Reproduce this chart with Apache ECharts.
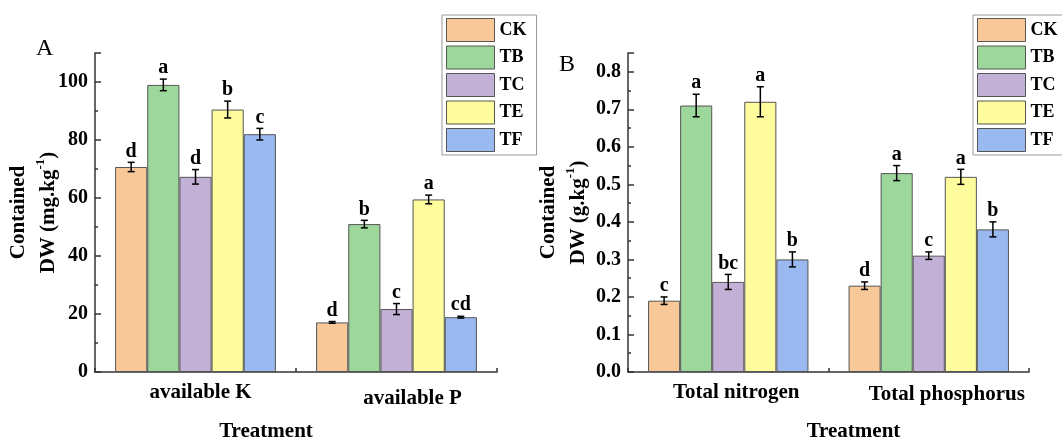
<!DOCTYPE html>
<html><head><meta charset="utf-8">
<script src="https://cdn.jsdelivr.net/npm/echarts@6/dist/echarts.min.js"></script>
<style>html,body{margin:0;padding:0;background:#fff}#c{width:1062px;height:437px}</style>
</head><body><div id="c"></div>
<script>
// ---- data ----
const treatments = ['CK', 'TB', 'TC', 'TE', 'TF'];
const catsA = ['available K', 'available P'];
const catsB = ['Total nitrogen', 'Total phosphorus'];
const tickA = [0, 20, 40, 60, 80, 100];
const tickB = [0.0, 0.1, 0.2, 0.3, 0.4, 0.5, 0.6, 0.7, 0.8];

// Panel A (mg/kg), order CK, TB, TC, TE, TF
const A_K = [70.7, 99.0, 67.3, 90.5, 82.0];
const A_K_err = [1.6, 2.0, 2.5, 2.9, 2.0];
const A_K_sig = ['d', 'a', 'd', 'b', 'c'];
const A_P = [17.1, 51.0, 21.7, 59.5, 18.9];
const A_P_err = [0.3, 1.3, 1.9, 1.5, 0.3];
const A_P_sig = ['d', 'b', 'c', 'a', 'cd'];

// Panel B (g/kg)
const B_N = [0.19, 0.71, 0.24, 0.72, 0.30];
const B_N_err = [0.01, 0.03, 0.02, 0.04, 0.02];
const B_N_sig = ['c', 'a', 'bc', 'a', 'b'];
const B_P = [0.23, 0.53, 0.31, 0.52, 0.38];
const B_P_err = [0.01, 0.02, 0.01, 0.02, 0.02];
const B_P_sig = ['d', 'a', 'c', 'a', 'b'];

// ---- styles ----
const COLORS = ['#F9C898', '#9DD79B', '#C2B0D6', '#FEFC9D', '#9AB9F1'];
const FONT = '"Liberation Serif", "Times New Roman", serif';
const AX = '#333';
const GAP = 0.2; // barCategoryGap fraction

const chart = echarts.init(document.getElementById('c'), null, {renderer: 'canvas'});

function makeErrData(groups) {
  const data = [], letters = [];
  groups.forEach((g, ci) => {
    g[0].forEach((v, si) => {
      data.push([ci, v, g[1][si], si]);
      letters.push(g[2][si]);
    });
  });
  return {data, letters};
}

function errRender(letters) {
  return function (params, api) {
    const ci = api.value(0), v = api.value(1), e = api.value(2), si = api.value(3);
    const catW = api.size([1, 0])[0];
    const barW = catW * (1 - GAP) / treatments.length;
    const cx = api.coord([ci, v])[0] + (si - (treatments.length - 1) / 2) * barW;
    const yT = api.coord([ci, v + e])[1];
    const yB = api.coord([ci, v - e])[1];
    const cap = 3.5;
    const ls = {stroke: '#000', lineWidth: 1.5};
    return {
      type: 'group',
      children: [
        {type: 'line', shape: {x1: cx, y1: yT, x2: cx, y2: yB}, style: ls},
        {type: 'line', shape: {x1: cx - cap, y1: yT, x2: cx + cap, y2: yT}, style: ls},
        {type: 'line', shape: {x1: cx - cap, y1: yB, x2: cx + cap, y2: yB}, style: ls},
        {type: 'text', style: {text: letters[params.dataIndex], x: cx, y: yT - 1,
          align: 'center', verticalAlign: 'bottom', fill: '#000',
          font: 'bold 20px ' + FONT}}
      ]
    };
  };
}

const errA = makeErrData([[A_K, A_K_err, A_K_sig], [A_P, A_P_err, A_P_sig]]);
const errB = makeErrData([[B_N, B_N_err, B_N_sig], [B_P, B_P_err, B_P_sig]]);

const labelBase = {color: '#000', fontFamily: FONT, fontWeight: 'bold', fontSize: 21};
const nameStyle = (extra) => Object.assign({
  color: '#000', fontFamily: FONT, fontWeight: 'bold', fontSize: 21, lineHeight: 30,
  rich: {sup: {color: '#000', fontFamily: FONT, fontWeight: 'bold', fontSize: 13, lineHeight: 20, verticalAlign: 'top'}}
}, extra || {});

function catAxis(gi, cats, nameShift, rich) {
  return {
    type: 'category', gridIndex: gi, data: cats, position: 'bottom',
    name: 'Treatment', nameLocation: 'middle', nameGap: 49, nameMoveOverlap: false,
    nameTextStyle: Object.assign({}, labelBase, {padding: nameShift}),
    axisLine: {lineStyle: {color: AX, width: 1.5}},
    axisTick: {show: true, inside: true, length: 4, lineStyle: {color: AX, width: 1.5}},
    axisLabel: Object.assign({}, labelBase, {margin: 10, interval: 0,
      formatter: (v, i) => '{l' + i + '|' + v + '}', rich: rich}),
    splitLine: {show: false}
  };
}
function tickAxis(gi, cats) {
  return {
    type: 'category', gridIndex: gi, data: cats, position: 'bottom',
    axisLine: {show: false}, axisLabel: {show: false}, splitLine: {show: false},
    axisTick: {show: true, inside: true, alignWithLabel: true, length: 4, lineStyle: {color: AX, width: 1.5}}
  };
}
function valAxis(gi, ticks, max, nameText, gap, fmt) {
  return {
    type: 'value', gridIndex: gi, min: ticks[0], max: max, interval: ticks[1] - ticks[0],
    name: nameText, nameLocation: 'middle', nameGap: gap, nameRotate: 90, nameMoveOverlap: false,
    nameTextStyle: nameStyle(),
    axisLine: {show: true, lineStyle: {color: AX, width: 1.5}},
    axisTick: {show: true, inside: true, length: 6, lineStyle: {color: AX, width: 1.5}},
    minorTick: {show: true, splitNumber: 2, length: 3, lineStyle: {color: AX, width: 1.5}},
    axisLabel: Object.assign({}, labelBase, {fontSize: 20, margin: 7, showMaxLabel: false, formatter: fmt}),
    splitLine: {show: false}
  };
}

const series = [];
treatments.forEach((t, si) => {
  series.push({
    name: t, type: 'bar', xAxisIndex: 0, yAxisIndex: 0,
    data: [A_K[si], A_P[si]], barGap: '0%', barCategoryGap: (GAP * 100) + '%',
    itemStyle: {color: COLORS[si], borderColor: '#555', borderWidth: 1}
  });
});
treatments.forEach((t, si) => {
  series.push({
    name: t, type: 'bar', xAxisIndex: 1, yAxisIndex: 1,
    data: [B_N[si], B_P[si]], barGap: '0%', barCategoryGap: (GAP * 100) + '%',
    itemStyle: {color: COLORS[si], borderColor: '#555', borderWidth: 1}
  });
});
series.push({name: 'errA', type: 'custom', xAxisIndex: 0, yAxisIndex: 0, z: 10,
  data: errA.data, renderItem: errRender(errA.letters)});
series.push({name: 'errB', type: 'custom', xAxisIndex: 1, yAxisIndex: 1, z: 10,
  data: errB.data, renderItem: errRender(errB.letters)});

const legendBase = {
  data: treatments, orient: 'vertical', top: 15, selectedMode: false,
  itemWidth: 48, itemHeight: 23, itemGap: 3.5, icon: 'rect',
  padding: [3, 10, 3, 4], borderColor: '#999', borderWidth: 1,
  itemStyle: {borderColor: '#555', borderWidth: 1},
  textStyle: {color: '#000', fontFamily: FONT, fontWeight: 'bold', fontSize: 18, lineHeight: 20}
};

chart.setOption({
  animation: false,
  backgroundColor: '#fff',
  color: COLORS,
  title: [
    {text: 'A', left: 36, top: 37, padding: 0, textStyle: {fontFamily: FONT, fontWeight: 'normal', fontSize: 24, color: '#000'}},
    {text: 'B', left: 559, top: 53, padding: 0, textStyle: {fontFamily: FONT, fontWeight: 'normal', fontSize: 24, color: '#000'}}
  ],
  legend: [
    Object.assign({left: 442}, legendBase),
    Object.assign({left: 973}, legendBase)
  ],
  grid: [
    {left: 95, right: 565, top: 53, bottom: 65, containLabel: false, outerBoundsMode: 'none'},
    {left: 628, right: 33, top: 53, bottom: 65, containLabel: false, outerBoundsMode: 'none'}
  ],
  xAxis: [
    catAxis(0, catsA, [0, 60, 0, 0], {
      l0: Object.assign({}, labelBase, {padding: [0, 0, 0, 10]}),
      l1: Object.assign({}, labelBase, {padding: [6, 0, 0, 32]})
    }),
    catAxis(1, catsB, [0, 0, 0, 50], {
      l0: Object.assign({}, labelBase, {padding: [0, 0, 0, 16]}),
      l1: Object.assign({}, labelBase, {padding: [2, 0, 0, 36]})
    }),
    tickAxis(0, catsA),
    tickAxis(1, catsB)
  ],
  yAxis: [
    valAxis(0, tickA, 110, 'Contained\nDW (mg.kg{sup|-1})', 31, v => String(v)),
    valAxis(1, tickB, 0.85, 'Contained\nDW (g.kg{sup|-1})', 34, v => v.toFixed(1))
  ],
  series: series
});
</script>
</body></html>
